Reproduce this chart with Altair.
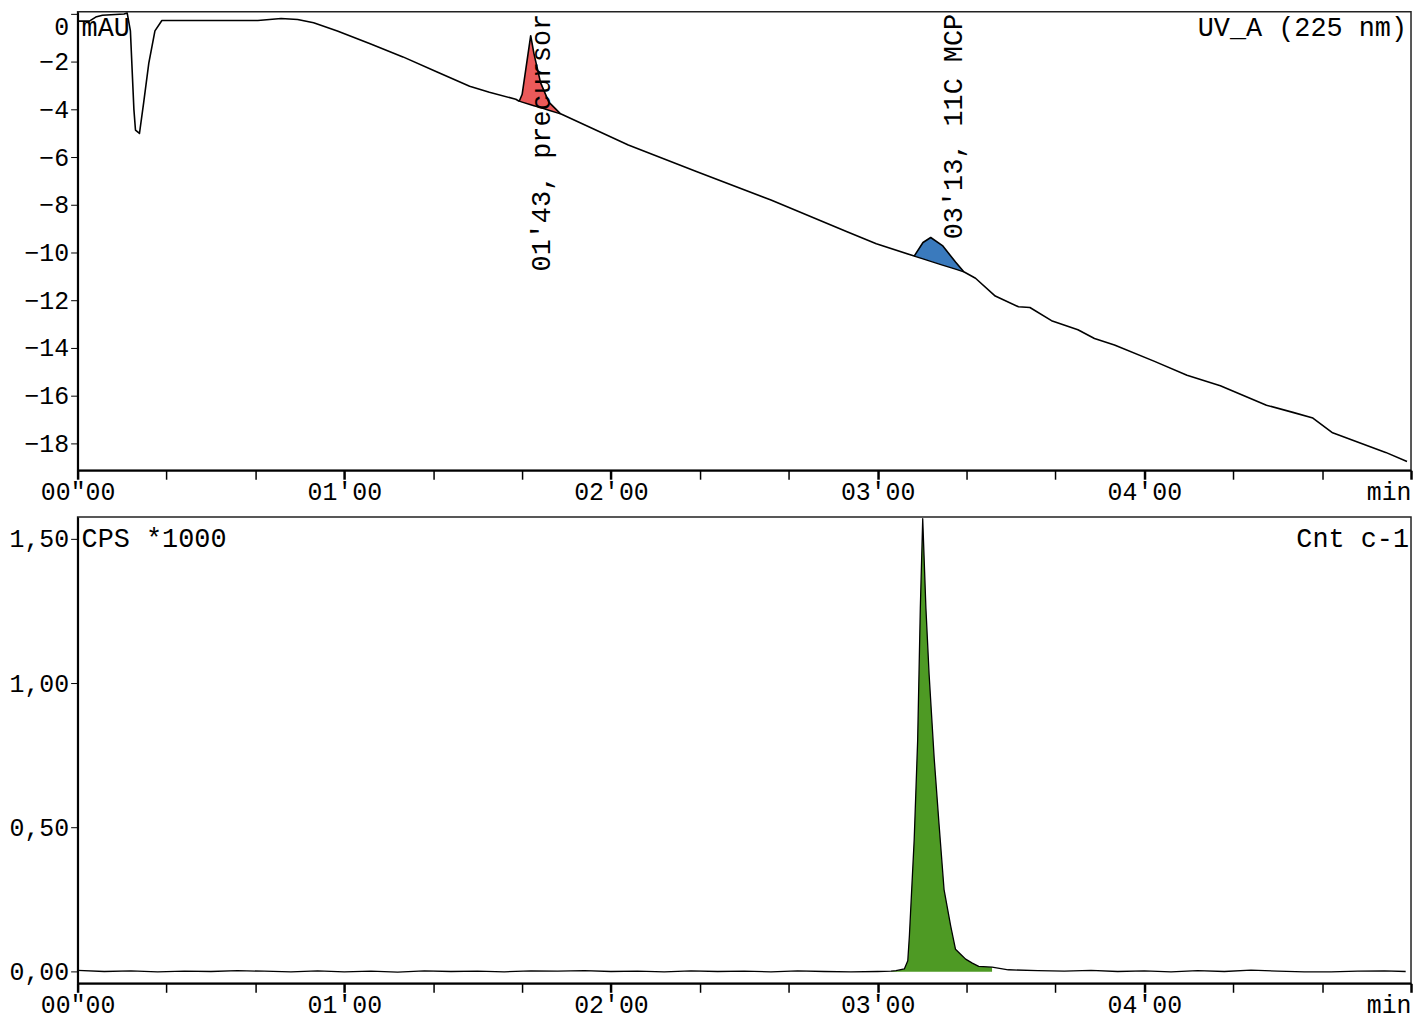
import json
import altair as alt
import pandas as pd

# ---------------- data ----------------
# UV trace (top panel): time in minutes, absorbance in mAU
uv_t = [0.000, 0.044, 0.068, 0.093, 0.174, 0.186, 0.198, 0.211, 0.217, 0.232,
        0.248, 0.267, 0.290, 0.316, 0.439, 0.676, 0.763, 0.825, 0.885, 0.974,
        1.097, 1.220, 1.346, 1.470, 1.544, 1.643, 1.656, 1.667, 1.699, 1.711,
        1.736, 1.767, 1.811, 2.065, 2.325, 2.600, 2.883, 2.995, 3.137, 3.170,
        3.199, 3.243, 3.292, 3.323, 3.367, 3.441, 3.528, 3.571, 3.652, 3.751,
        3.813, 3.888, 4.036, 4.160, 4.285, 4.458, 4.557, 4.632, 4.706, 4.905,
        4.985]
uv_v = [-0.29, -0.29, -0.12, -0.04, 0.01, 0.05, -0.70, -3.98, -4.86, -5.00,
        -3.69, -2.05, -0.70, -0.26, -0.26, -0.26, -0.18, -0.22, -0.36, -0.70,
        -1.24, -1.79, -2.41, -3.02, -3.27, -3.57, -3.65, -3.36, -0.90, -1.64,
        -2.87, -3.69, -4.18, -5.49, -6.62, -7.80, -9.12, -9.63, -10.15, -9.58,
        -9.37, -9.71, -10.40, -10.81, -11.08, -11.83, -12.28, -12.31, -12.86, -13.24,
        -13.61, -13.88, -14.56, -15.15, -15.59, -16.41, -16.71, -16.95, -17.57, -18.39,
        -18.77]

# integrated peaks: curve values and their drawn baseline
red_t = [1.656, 1.667, 1.699, 1.711, 1.736, 1.767, 1.811]
red_v = [-3.65, -3.36, -0.90, -1.64, -2.87, -3.69, -4.18]
red_base = [-3.65, -3.69, -3.80, -3.84, -3.92, -4.03, -4.18]

blue_t = [3.137, 3.170, 3.199, 3.243, 3.292, 3.323]
blue_v = [-10.15, -9.58, -9.37, -9.71, -10.40, -10.81]
blue_base = [-10.15, -10.27, -10.37, -10.53, -10.70, -10.81]

peak_label_text = ["01'43, precursor", "03'13, 11C MCP"]
peak_label_t = [1.742, 3.285]

# radio trace (bottom panel): time in minutes, CPS * 1000
rad_t = [0.0, 0.1, 0.2, 0.3, 0.4, 0.5, 0.6, 0.7, 0.8, 0.9,
         1.0, 1.1, 1.2, 1.3, 1.4, 1.5, 1.6, 1.7, 1.8, 1.9,
         2.0, 2.1, 2.2, 2.3, 2.4, 2.5, 2.6, 2.7, 2.8, 2.9,
         3.0, 3.05, 3.069, 3.10, 3.113, 3.119, 3.137, 3.150, 3.160, 3.169,
         3.181, 3.193, 3.212, 3.230, 3.249, 3.274, 3.292, 3.311, 3.330, 3.355,
         3.379, 3.429, 3.490, 3.6, 3.7, 3.8, 3.9, 4.0, 4.1, 4.2,
         4.3, 4.4, 4.5, 4.6, 4.7, 4.8, 4.9, 4.98]
rad_v = [0.005, 0.001, 0.003, 0.000, 0.002, 0.001, 0.004, 0.002, 0.000, 0.003,
         0.000, 0.002, -0.001, 0.003, 0.001, 0.002, 0.000, 0.003, 0.002, 0.004,
         0.001, 0.002, 0.000, 0.003, 0.001, 0.002, 0.000, 0.003, 0.001, 0.000,
         0.001, 0.002, 0.004, 0.010, 0.038, 0.124, 0.457, 0.801, 1.260, 1.570,
         1.260, 1.030, 0.740, 0.514, 0.285, 0.158, 0.078, 0.061, 0.044, 0.030,
         0.019, 0.016, 0.007, 0.004, 0.002, 0.005, 0.001, 0.003, 0.000, 0.004,
         0.001, 0.006, 0.002, 0.000, 0.000, 0.002, 0.003, 0.001]
green_range = [3.05, 3.45]

x_tick_labels = ['00"00', "01'00", "02'00", "03'00", "04'00", "min"]
top_y_ticks = [0, -2, -4, -6, -8, -10, -12, -14, -16, -18]
bottom_y_ticks = [0, 0.5, 1.0, 1.5]

# ---------------- styling ----------------
FONT = "Liberation Mono"
FS = 25       # y-axis labels
FSX = 25      # x-axis labels
FST = 27      # texts inside the plots
W = 1341
RED = "#eb5a5a"
BLUE = "#3a7abd"
GREEN = "#4e9a24"

uv_df = pd.DataFrame({"t": uv_t, "v": uv_v})
red_df = pd.DataFrame({"t": red_t, "v": red_v, "b": red_base, "peak": "red"})
blue_df = pd.DataFrame({"t": blue_t, "v": blue_v, "b": blue_base, "peak": "blue"})
chord_df = pd.concat([red_df, blue_df], ignore_index=True)
lab_df = pd.DataFrame({"t": peak_label_t, "label": peak_label_text})
rad_df = pd.DataFrame({"t": rad_t, "v": rad_v})

x_ticks = [i / 3 for i in range(16)]
x_label_expr = ("round(datum.value*3) % 3 != 0 ? '' : "
                + json.dumps(x_tick_labels) + "[round(datum.value)]")

x_axis = alt.Axis(
    values=x_ticks,
    labelExpr=x_label_expr,
    labelFlush=False,
    labelOverlap=False,
    labelAlign={"condition": {"test": "datum.value > 4.9", "value": "right"}, "value": "center"},
    tickWidth={"condition": {"test": "round(datum.value*3) % 3 == 0", "value": 2.5}, "value": 1.5},
    title=None,
)
X = alt.X("t:Q", scale=alt.Scale(domain=[0, 5], nice=False, zero=False), axis=x_axis, title=None)

# ---------------- top panel ----------------
Yt = alt.Y("v:Q", scale=alt.Scale(domain=[-19.14, 0.1], nice=False, zero=False),
           axis=alt.Axis(values=top_y_ticks, labelFlush=False,
                         labelBaseline={"condition": {"test": "datum.value == 0", "value": "top"},
                                        "value": "middle"},
                         title=None), title=None)

red_area = alt.Chart(red_df).mark_area(color=RED, opacity=1).encode(x=X, y=Yt, y2="b:Q")
blue_area = alt.Chart(blue_df).mark_area(color=BLUE, opacity=1).encode(x=X, y=Yt, y2="b:Q")
uv_line = alt.Chart(uv_df).mark_line(color="black", strokeWidth=1.6, strokeJoin="round").encode(
    x=X, y=Yt)
chords = alt.Chart(chord_df).mark_line(color="black", strokeWidth=1.4, strokeJoin="round").encode(
    x=X, y=alt.Y("b:Q", title=None), detail="peak:N")
peak_labels = alt.Chart(lab_df).mark_text(
    font=FONT, fontSize=FST, angle=270, align="right", baseline="middle", color="black"
).encode(x=X, y=alt.value(2), text="label:N")
mau = alt.Chart(pd.DataFrame({"s": ["mAU"]})).mark_text(
    font=FONT, fontSize=FST, align="left", baseline="middle", color="black"
).encode(x=alt.value(4), y=alt.value(16), text="s:N")
uva = alt.Chart(pd.DataFrame({"s": ["UV_A (225 nm)"]})).mark_text(
    font=FONT, fontSize=FST, align="right", baseline="middle", color="black"
).encode(x=alt.value(W - 4), y=alt.value(16), text="s:N")

top = alt.layer(red_area, blue_area, uv_line, chords, peak_labels, mau, uva).properties(
    width=W, height=461)

# ---------------- bottom panel ----------------
Yb = alt.Y("v:Q", scale=alt.Scale(domain=[-0.04, 1.576], nice=False, zero=False),
           axis=alt.Axis(values=bottom_y_ticks,
                         labelExpr="replace(format(datum.value, '.2f'), '.', ',')",
                         title=None), title=None)

green_area = alt.Chart(rad_df).transform_filter(
    (alt.datum.t >= green_range[0]) & (alt.datum.t <= green_range[1])
).mark_area(color=GREEN, opacity=1).encode(x=X, y=Yb, y2=alt.datum(0))
rad_line = alt.Chart(rad_df).mark_line(color="black", strokeWidth=1.3, strokeJoin="round").encode(
    x=X, y=Yb)
cps = alt.Chart(pd.DataFrame({"s": ["CPS *1000"]})).mark_text(
    font=FONT, fontSize=FST, align="left", baseline="middle", color="black"
).encode(x=alt.value(4), y=alt.value(22), text="s:N")
cnt = alt.Chart(pd.DataFrame({"s": ["Cnt c-1"]})).mark_text(
    font=FONT, fontSize=FST, align="right", baseline="middle", color="black"
).encode(x=alt.value(W - 2), y=alt.value(22), text="s:N")

bottom = alt.layer(green_area, rad_line, cps, cnt).properties(width=W, height=469)

chart = alt.vconcat(top, bottom, spacing=11).properties(
    padding={"left": 0, "top": 0, "right": 0, "bottom": 0}
).configure_view(
    stroke="#222", strokeWidth=1.5
).configure_axis(
    labelFont=FONT, labelFontSize=FS, labelColor="black",
    domainColor="black", domainWidth=2, tickColor="black", grid=False,
).configure_axisX(
    tickSize=9, labelPadding=0, labelFontSize=FSX,
).configure_axisY(
    tickSize=7, labelPadding=2,
)

chart.save("out.html", embed_options={"renderer": "svg", "actions": False})
